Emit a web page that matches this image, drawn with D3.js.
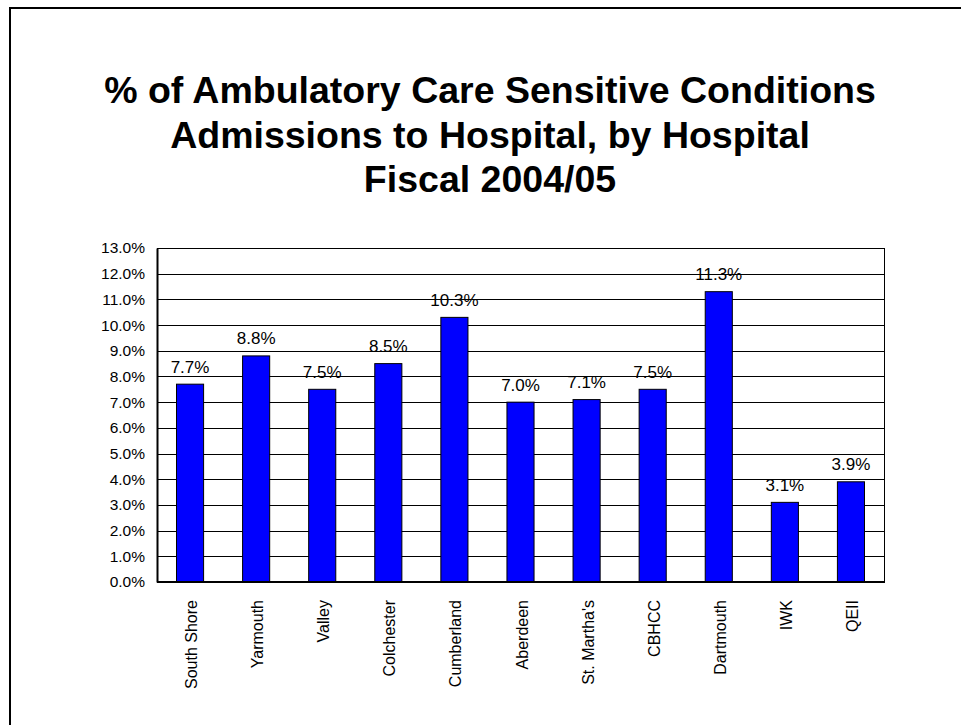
<!DOCTYPE html>
<html>
<head>
<meta charset="utf-8">
<script src="https://cdn.jsdelivr.net/npm/d3@7"></script>
<style>
  html, body { margin: 0; padding: 0; background: #fff; }
  svg { display: block; font-family: Arial, "Liberation Sans", sans-serif; }
</style>
</head>
<body>
<svg id="chart" width="961" height="725"></svg>
<script>
const titleLines = ["% of Ambulatory Care Sensitive Conditions", "Admissions to Hospital, by Hospital", "Fiscal 2004/05"];
const hospitals = ["South Shore", "Yarmouth", "Valley", "Colchester", "Cumberland", "Aberdeen", "St. Martha's", "CBHCC", "Dartmouth", "IWK", "QEII"];
const percents = [7.7, 8.8, 7.5, 8.5, 10.3, 7.0, 7.1, 7.5, 11.3, 3.1, 3.9];
const yTicks = [0, 1, 2, 3, 4, 5, 6, 7, 8, 9, 10, 11, 12, 13];

const svg = d3.select("#chart");
const W = 961, H = 725;
const plot = { left: 157, right: 884, top: 248, bottom: 582 };
const FONT = "Arial, 'Liberation Sans', sans-serif";

svg.append("rect").attr("width", W).attr("height", H).attr("fill", "#fff");

// outer frame (left + top edges visible)
svg.append("path")
  .attr("d", `M10,${H} L10,8 L${W},8`)
  .attr("fill", "none").attr("stroke", "#000").attr("stroke-width", 2);

// title
const title = svg.append("text")
  .attr("text-anchor", "middle")
  .attr("font-size", 37.5).attr("font-weight", "bold").attr("fill", "#000");
titleLines.forEach((t, i) => {
  title.append("tspan").attr("x", 490).attr("y", 103 + i * 44.5).text(t);
});

const x = d3.scaleBand().domain(hospitals).range([plot.left, plot.right]).paddingInner(0.59).paddingOuter(0.295);
const y = d3.scaleLinear().domain([0, 13]).range([plot.bottom, plot.top]);

// gridlines
svg.append("g")
  .attr("transform", `translate(${plot.left},0)`)
  .call(d3.axisLeft(y).tickValues(yTicks).tickSize(-(plot.right - plot.left)).tickFormat(""))
  .call(g => g.select(".domain").remove())
  .call(g => g.selectAll("line").attr("stroke", "#000").attr("stroke-width", 1).attr("shape-rendering", "crispEdges"));

// plot frame
svg.append("rect")
  .attr("x", plot.left).attr("y", plot.top)
  .attr("width", plot.right - plot.left).attr("height", plot.bottom - plot.top)
  .attr("fill", "none").attr("stroke", "#000").attr("stroke-width", 1)
  .attr("shape-rendering", "crispEdges");

// y axis labels
svg.append("g")
  .attr("transform", `translate(${plot.left},0)`)
  .call(d3.axisLeft(y).tickValues(yTicks).tickSize(0).tickPadding(12).tickFormat(d => d.toFixed(1) + "%"))
  .call(g => g.select(".domain").attr("stroke", "#000").attr("stroke-width", 2))
  .call(g => g.selectAll("text").attr("font-size", 15.5).attr("font-family", FONT).attr("fill", "#000"));

// bars
svg.append("g").selectAll("rect").data(hospitals).join("rect")
  .attr("x", d => x(d))
  .attr("y", (d, i) => y(percents[i]))
  .attr("width", x.bandwidth())
  .attr("height", (d, i) => y(0) - y(percents[i]))
  .attr("fill", "#0000FF")
  .attr("stroke", "#000").attr("stroke-width", 1);

// bottom axis line
svg.append("line")
  .attr("x1", plot.left).attr("x2", plot.right)
  .attr("y1", plot.bottom).attr("y2", plot.bottom)
  .attr("stroke", "#000").attr("stroke-width", 2);

// data labels
svg.append("g").selectAll("text").data(hospitals).join("text")
  .attr("x", d => x(d) + x.bandwidth() / 2)
  .attr("y", (d, i) => y(percents[i]) - 11.5)
  .attr("text-anchor", "middle")
  .attr("font-size", 17).attr("font-family", FONT).attr("fill", "#000")
  .text((d, i) => percents[i].toFixed(1) + "%");

// x axis labels (rotated)
svg.append("g")
  .attr("transform", `translate(0,${plot.bottom})`)
  .call(d3.axisBottom(x).tickSize(0).tickPadding(0))
  .call(g => g.select(".domain").remove())
  .call(g => g.selectAll("text")
    .attr("font-size", 16).attr("font-family", FONT).attr("fill", "#000")
    .attr("text-anchor", "end")
    .attr("dy", null)
    .attr("transform", "translate(7,18) rotate(-90)")
    .attr("x", 0).attr("y", 0));
</script>
</body>
</html>
